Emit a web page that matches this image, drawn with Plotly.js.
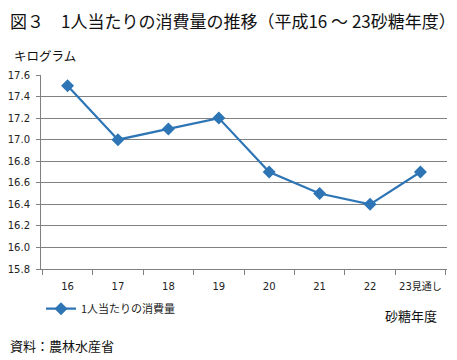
<!DOCTYPE html>
<html><head><meta charset="utf-8">
<script src="https://cdn.plot.ly/plotly-3.0.1.min.js"></script>
<style>html,body{margin:0;padding:0;background:#fff}#c{width:457px;height:360px}</style>
</head><body><div id="c"></div>
<script>
const categories = ["16","17","18","19","20","21","22","23見通し"];
const consumption = [17.5, 17.0, 17.1, 17.2, 16.7, 16.5, 16.4, 16.7];
const seriesName = "1人当たりの消費量";
const yTicks = [15.8,16.0,16.2,16.4,16.6,16.8,17.0,17.2,17.4,17.6];

const F = '"Noto Sans CJK JP", "Noto Sans", sans-serif';
const FT = '"DejaVu Sans", "Noto Sans CJK JP", sans-serif';
const trace = {
  type: 'scatter', mode: 'lines+markers', x: categories, y: consumption, name: seriesName,
  line: {color: '#2E75B6', width: 2.2},
  marker: {symbol: 'diamond', size: 10, color: '#2E75B6'}
};
const layout = {
  width: 457, height: 360,
  margin: {l: 41, r: 10, t: 75, b: 91},
  paper_bgcolor: '#fff', plot_bgcolor: '#fff',
  font: {family: F, color: '#222'},
  showlegend: true,
  legend: {orientation: 'h', x: 0.0, xanchor: 'left', y: -0.13, yanchor: 'top',
           font: {size: 11, family: F, color: '#222'}, bgcolor: 'rgba(0,0,0,0)'},
  xaxis: {type: 'category', tickson: 'boundaries', ticks: 'outside', ticklen: 5, tickcolor: '#808080',
          showline: true, linecolor: '#808080', linewidth: 1, showgrid: false, ticklabelstandoff: 8,
          tickangle: 0, tickfont: {size: 10, family: FT, color: '#222'}, fixedrange: true},
  yaxis: {range: [15.8, 17.6], tickvals: yTicks, ticktext: yTicks.map(v => v.toFixed(1)),
          ticks: 'outside', ticklen: 4, tickcolor: '#808080', ticklabelstandoff: 4,
          showline: true, linecolor: '#808080', linewidth: 1,
          showgrid: true, gridcolor: '#808080', gridwidth: 1, zeroline: false,
          tickfont: {size: 10, family: FT, color: '#222'}},
  annotations: [
    {text: '図３　1人当たりの消費量の推移（平成16 ～ 23砂糖年度）', xref: 'paper', yref: 'paper',
     x: -0.081, y: 1.283, xanchor: 'left', yanchor: 'middle', showarrow: false,
     font: {size: 17, family: F, color: '#111'}},
    {text: 'キログラム', xref: 'paper', yref: 'paper', x: -0.071, y: 1.103, xanchor: 'left', yanchor: 'middle',
     showarrow: false, font: {size: 12.5, family: F, color: '#111'}},
    {text: '砂糖年度', xref: 'paper', yref: 'paper', x: 0.98, y: -0.24, xanchor: 'right', yanchor: 'middle',
     showarrow: false, font: {size: 13, family: F, color: '#111'}},
    {text: '資料：農林水産省', xref: 'paper', yref: 'paper', x: -0.081, y: -0.395, xanchor: 'left', yanchor: 'middle',
     showarrow: false, font: {size: 13, family: F, color: '#111'}}
  ]
};
Plotly.newPlot('c', [trace], layout, {staticPlot: true, displayModeBar: false});
</script></body></html>
